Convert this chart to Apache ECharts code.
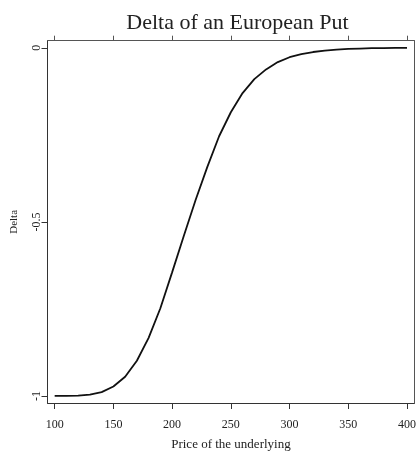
<!DOCTYPE html>
<html>
<head>
<meta charset="utf-8">
<script src="https://cdn.jsdelivr.net/npm/echarts@6/dist/echarts.min.js"></script>
<style>
html,body{margin:0;padding:0;background:#fff;}
#chart{width:419px;height:456px;}
</style>
</head>
<body>
<div id="chart"></div>
<script>
const prices = [100,110,120,130,140,150,160,170,180,190,200,210,220,230,240,250,260,270,280,290,300,310,320,330,340,350,360,370,380,390,400];
const deltaValues = [-1.000,-1.000,-0.999,-0.996,-0.989,-0.973,-0.945,-0.899,-0.833,-0.748,-0.645,-0.540,-0.437,-0.342,-0.254,-0.185,-0.130,-0.090,-0.062,-0.041,-0.027,-0.018,-0.012,-0.008,-0.005,-0.003,-0.002,-0.001,-0.001,0.000,0.000];
const xTicks = [100,150,200,250,300,350,400];
const yTicks = [-1,-0.5,0];
const yTickLabels = ['-1','-0.5','0'];
const titleText = 'Delta of an European Put';
const xTitle = 'Price of the underlying';
const yTitle = 'Delta';

const FONT = '"Liberation Serif","DejaVu Serif",serif';
const chart = echarts.init(document.getElementById('chart'), null, {renderer:'canvas'});
const lineCol = '#333';
const xRange = {min: 93.9, max: 406.3};
const yRange = {min: -1.0203, max: 0.0205};

chart.setOption({
  animation: false,
  backgroundColor: '#fff',
  title: {
    text: titleText,
    left: 232.5, top: 7,
    textAlign: 'center',
    textStyle: {fontFamily: FONT, fontSize: 22, fontWeight: 'normal', color: '#222'}
  },
  grid: {left: 47.5, right: 1.5, top: 40.7, bottom: 45.3, containLabel: false},
  xAxis: [{
    type: 'value', position: 'bottom', min: xRange.min, max: xRange.max,
    name: xTitle, nameLocation: 'middle', nameGap: 35,
    nameTextStyle: {fontFamily: FONT, fontSize: 13, color: '#222'},
    axisLine: {show: true, onZero: false, lineStyle: {color: lineCol, width: 1}},
    axisTick: {show: true, length: 6, inside: false, customValues: xTicks, lineStyle: {color: lineCol}},
    axisLabel: {show: true, customValues: xTicks, margin: 16, fontFamily: FONT, fontSize: 12, color: '#222',
      formatter: v => String(v)},
    splitLine: {show: false}
  },{
    type: 'value', position: 'top', min: xRange.min, max: xRange.max,
    axisLine: {show: true, onZero: false, lineStyle: {color: '#555', width: 1}},
    axisTick: {show: true, length: 5, inside: false, customValues: xTicks, lineStyle: {color: '#555'}},
    axisLabel: {show: false},
    splitLine: {show: false}
  }],
  yAxis: [{
    type: 'value', position: 'left', min: yRange.min, max: yRange.max,
    name: yTitle, nameLocation: 'middle', nameGap: 28, nameRotate: 90,
    nameTextStyle: {fontFamily: FONT, fontSize: 11, color: '#222'},
    axisLine: {show: true, onZero: false, lineStyle: {color: lineCol, width: 1}},
    axisTick: {show: true, length: 6, inside: false, customValues: yTicks, lineStyle: {color: lineCol}},
    axisLabel: {show: true, customValues: yTicks, rotate: 90, margin: 5, fontFamily: FONT, fontSize: 12, color: '#222',
      formatter: v => yTickLabels[yTicks.findIndex(t => Math.abs(t - v) < 1e-9)] ?? ''},
    splitLine: {show: false}
  },{
    type: 'value', position: 'right', min: yRange.min, max: yRange.max,
    axisLine: {show: true, onZero: false, lineStyle: {color: '#555', width: 1}},
    axisTick: {show: false},
    axisLabel: {show: false},
    splitLine: {show: false}
  }],
  series: [{
    type: 'line',
    xAxisIndex: 0, yAxisIndex: 0,
    data: prices.map((p, i) => [p, deltaValues[i]]),
    showSymbol: false,
    smooth: false,
    lineStyle: {color: '#111', width: 1.8},
    silent: true
  }]
});
</script>
</body>
</html>
